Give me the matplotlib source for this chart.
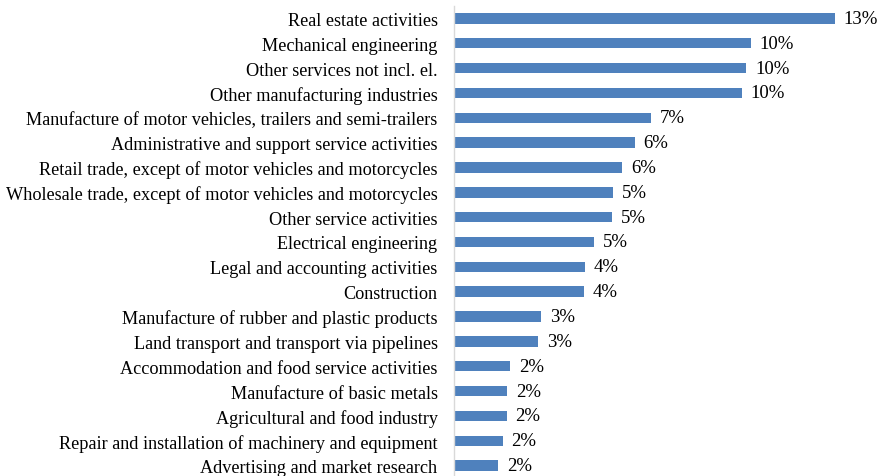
import matplotlib.pyplot as plt
import numpy as np

plt.rcParams['font.family'] = ['Liberation Serif', 'DejaVu Serif']

# Share of companies by industry, in percent
industries = [
    "Real estate activities",
    "Mechanical engineering",
    "Other services not incl. el.",
    "Other manufacturing industries",
    "Manufacture of motor vehicles, trailers and semi-trailers",
    "Administrative and support service activities",
    "Retail trade, except of motor vehicles and motorcycles",
    "Wholesale trade, except of motor vehicles and motorcycles",
    "Other service activities",
    "Electrical engineering",
    "Legal and accounting activities",
    "Construction",
    "Manufacture of rubber and plastic products",
    "Land transport and transport via pipelines",
    "Accommodation and food service activities",
    "Manufacture of basic metals",
    "Agricultural and food industry",
    "Repair and installation of machinery and equipment",
    "Advertising and market research",
]
shares = [13.0, 10.13, 9.97, 9.82, 6.73, 6.18, 5.74, 5.43, 5.40, 4.79,
          4.48, 4.45, 2.98, 2.88, 1.93, 1.82, 1.81, 1.68, 1.51]

fig = plt.figure(figsize=(8.8, 4.77), dpi=100)
ax = fig.add_axes([453.5 / 880, -2 / 477, 1 - 453.5 / 880, 472 / 477])

y = np.arange(len(industries))
ax.barh(y, shares, height=0.42, color='#4F81BD')

for yi, v in zip(y, shares):
    ax.text(v + 0.3, yi, f"{v:.0f}%", va='center', ha='left', fontsize=13.5)

ax.set_yticks(y)
ax.set_yticklabels(industries, fontsize=13.15)
ax.tick_params(axis='y', length=0, pad=11.5)
ax.set_ylim(len(industries) - 0.5, -0.5)
ax.set_xlim(0, 14.53)
ax.set_xticks([])

for s in ['top', 'right', 'bottom']:
    ax.spines[s].set_visible(False)
ax.spines['left'].set_color('#D9D9D9')
ax.spines['left'].set_linewidth(1)

fig.savefig('out.png', dpi=100)
